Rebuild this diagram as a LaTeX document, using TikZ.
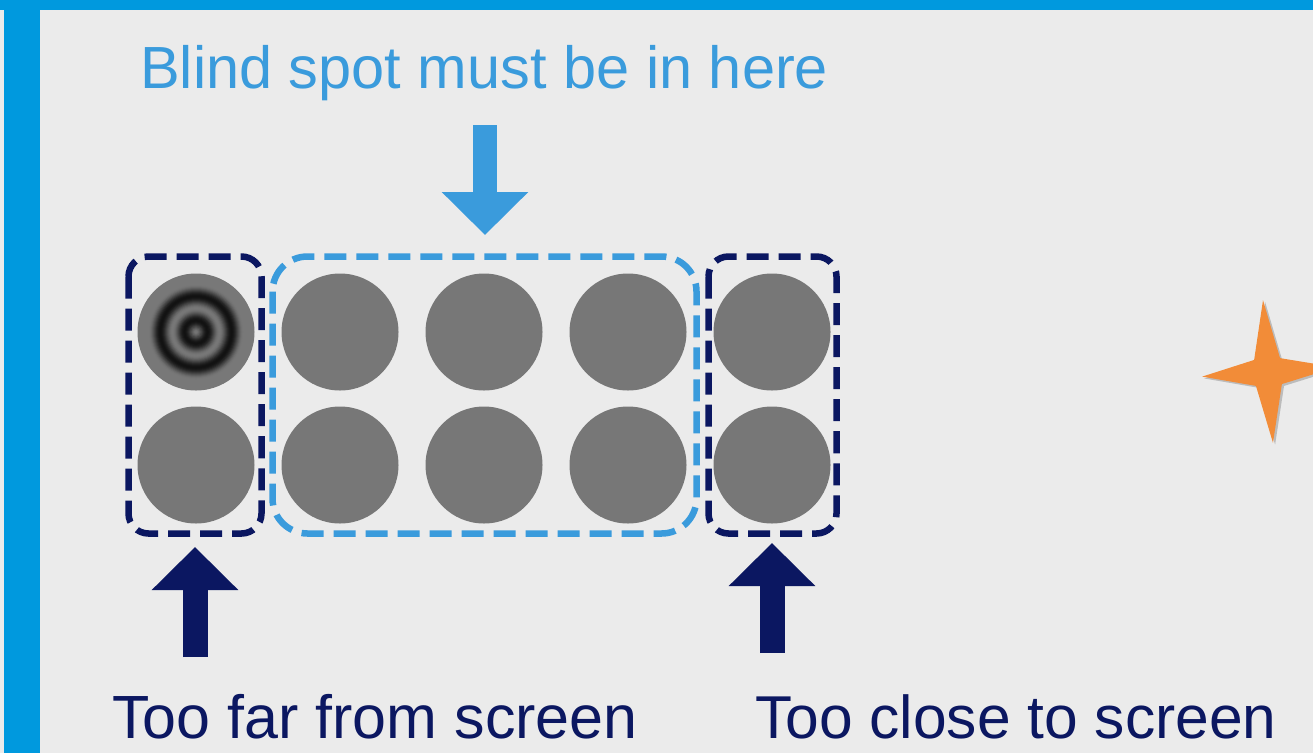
\documentclass[tikz,border=0pt]{standalone}
\usepackage{fontspec}
\setmainfont{Liberation Sans}
\usetikzlibrary{arrows.meta}
\definecolor{bggray}{HTML}{EBEBEB}
\definecolor{frameblue}{HTML}{0099DE}
\definecolor{spotblue}{HTML}{3A9BDC}
\definecolor{navy}{HTML}{0B1761}
\definecolor{dotgray}{HTML}{777777}
\definecolor{starorange}{HTML}{F28C38}

\begin{document}
\begin{tikzpicture}[x=1pt,y=-1pt,
  dot/.style={circle,minimum size=117pt,inner sep=0pt,fill=dotgray},
  groupbox/.style={line width=6.5pt,dash pattern=on 22pt off 10pt},
  bigarrow/.style={line width=25pt,-{Triangle[length=43pt,width=84pt]}},
  bigtext/.style={font=\fontsize{59.5}{70}\selectfont,inner sep=0pt,anchor=base west}]
\useasboundingbox (0,0) rectangle (1313,753);
\fill[bggray] (0,0) rectangle (1313,753);
\fill[frameblue] (0,0) rectangle (1313,10);
\fill[frameblue] (4,0) rectangle (40,753);

\foreach \col/\x in {1/196,2/340,3/484,4/628,5/772}
  \foreach \row/\y in {1/332,2/465}
    \node[dot] (c\row\col) at (\x,\y) {};
\foreach \r in {58,57,...,1} {
  \pgfmathsetmacro{\pct}{\r<48 ? 53+20*(1-cos(15*\r)) : 53}
  \fill[black!\pct] (c11.center) circle[radius=\r pt];
}

\draw[groupbox,navy,rounded corners=20pt] (128.5,256.5) rectangle (261.5,533.5);
\draw[groupbox,spotblue,rounded corners=35pt] (272.5,256.5) rectangle (696.5,533.5);
\draw[groupbox,navy,rounded corners=20pt] (708.5,256.5) rectangle (836.5,533.5);

\node[bigtext,text=spotblue] (spot) at (140,88) {Blind spot must be in here};
\node[bigtext,text=navy,font=\fontsize{61}{70}\selectfont] (far) at (112,738) {Too far from screen};
\node[bigtext,text=navy,font=\fontsize{60.5}{70}\selectfont] (close) at (755,738) {Too close to screen};

\coordinate (spottail) at (485,125);
\coordinate (spottip) at (485,235);
\coordinate (fartail) at (195,657);
\coordinate (fartip) at (195,547);
\coordinate (closetail) at (772,653);
\coordinate (closetip) at (772,543);
\draw[bigarrow,spotblue,line width=24pt] (spottail) -- (spottip);
\draw[bigarrow,navy] (fartail) -- (fartip);
\draw[bigarrow,navy] (closetail) -- (closetip);

\begin{scope}[shift={(1268,372)},rotate=4]
\fill[black,opacity=.2,shift={(2,2)}] (0,-72) -- (13,-13) -- (68,0) -- (13,13) -- (0,71) -- (-13,13) -- (-66,0) -- (-13,-13) -- cycle;
\fill[starorange] (0,-72) -- (13,-13) -- (68,0) -- (13,13) -- (0,71) -- (-13,13) -- (-66,0) -- (-13,-13) -- cycle;
\end{scope}
\end{tikzpicture}
\end{document}
